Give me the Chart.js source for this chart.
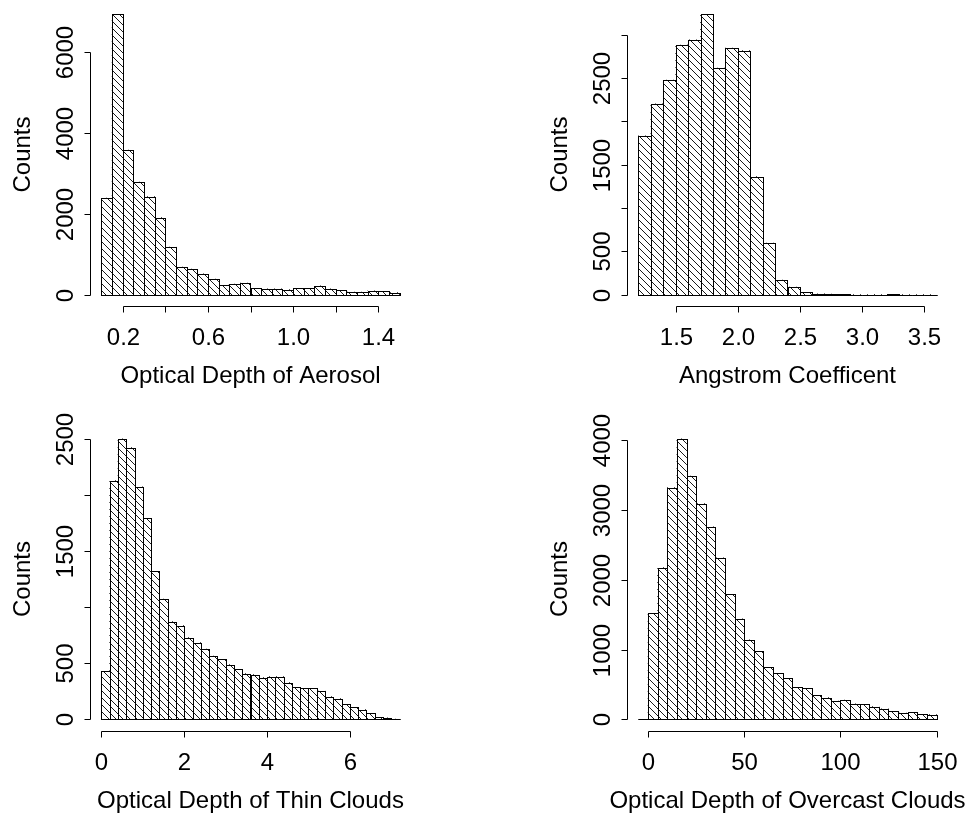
<!DOCTYPE html>
<html>
<head>
<meta charset="utf-8">
<script src="https://cdn.jsdelivr.net/npm/chart.js@4.4.1/dist/chart.umd.min.js"></script>
<style>
  html, body { margin: 0; padding: 0; background: #fff; }
  #wrap { position: relative; width: 978px; height: 815px; }
  .panel { position: absolute; }
  .panel canvas { display: block; }
</style>
</head>
<body>
<div id="wrap">
  <div class="panel" style="left:0;top:0"><canvas id="aerosolChart" width="489" height="407"></canvas></div>
  <div class="panel" style="left:489px;top:0"><canvas id="angstromChart" width="489" height="407"></canvas></div>
  <div class="panel" style="left:0;top:407px"><canvas id="thinChart" width="489" height="408"></canvas></div>
  <div class="panel" style="left:489px;top:407px"><canvas id="overcastChart" width="489" height="408"></canvas></div>
</div>
<script>
// Optical depth of aerosol
var aerosolEdges = [0.10, 0.15, 0.20, 0.25, 0.30, 0.35, 0.40, 0.45, 0.50, 0.55, 0.60, 0.65, 0.70, 0.75,
    0.80, 0.85, 0.90, 0.95, 1.00, 1.05, 1.10, 1.15, 1.20, 1.25, 1.30, 1.35, 1.40, 1.45, 1.50];
var aerosolCounts = [2390, 6940, 3580, 2790, 2430, 1910, 1180, 685, 635, 520, 388, 231, 264, 289,
    160, 150, 150, 130, 160, 160, 220, 150, 107, 66, 66, 95, 82, 55];
var aerosolXTicks = [0.2, 0.4, 0.6, 0.8, 1.0, 1.2, 1.4];
var aerosolXLabels = ['0.2', '', '0.6', '', '1.0', '', '1.4'];
var aerosolYTicks = [0, 2000, 4000, 6000];
var aerosolYLabels = ['0', '2000', '4000', '6000'];

// Angstrom coefficient
var angstromEdges = [1.2, 1.3, 1.4, 1.5, 1.6, 1.7, 1.8, 1.9, 2.0, 2.1, 2.2, 2.3, 2.4,
    2.5, 2.6, 2.7, 2.8, 2.9, 3.0, 3.1, 3.2, 3.3, 3.4, 3.5, 3.6];
var angstromCounts = [1835, 2204, 2477, 2881, 2942, 3238, 2615, 2846, 2819, 1365, 596, 170,
    89, 27, 10, 9, 4, 3, 2, 2, 4, 1, 1, 1];
var angstromXTicks = [1.5, 2.0, 2.5, 3.0, 3.5];
var angstromXLabels = ['1.5', '2.0', '2.5', '3.0', '3.5'];
var angstromYTicks = [0, 500, 1000, 1500, 2000, 2500, 3000];
var angstromYLabels = ['0', '500', '', '1500', '', '2500', ''];

// Optical depth of thin clouds
var thinEdges = [0.0, 0.2, 0.4, 0.6, 0.8, 1.0, 1.2, 1.4, 1.6, 1.8, 2.0, 2.2, 2.4, 2.6, 2.8, 3.0, 3.2, 3.4,
    3.6, 3.8, 4.0, 4.2, 4.4, 4.6, 4.8, 5.0, 5.2, 5.4, 5.6, 5.8, 6.0, 6.2, 6.4, 6.6, 6.8, 7.0, 7.2];
var thinCounts = [428, 2126, 2500, 2420, 2072, 1790, 1318, 1072, 870, 834, 727, 683, 626, 564, 534, 487,
    445, 407, 398, 371, 380, 380, 327, 285, 276, 276, 252, 202, 184, 134, 107, 86, 53, 18, 12, 2];
var thinXTicks = [0, 2, 4, 6];
var thinXLabels = ['0', '2', '4', '6'];
var thinYTicks = [0, 500, 1000, 1500, 2000, 2500];
var thinYLabels = ['0', '500', '', '1500', '', '2500'];

// Optical depth of overcast clouds
var overcastEdges = [-5, 0, 5, 10, 15, 20, 25, 30, 35, 40, 45, 50, 55, 60, 65, 70, 75, 80,
    85, 90, 95, 100, 105, 110, 115, 120, 125, 130, 135, 140, 145, 150];
var overcastCounts = [0, 1518, 2176, 3322, 4024, 3489, 3093, 2759, 2315, 1790, 1441, 1141, 974, 745,
    659, 587, 458, 444, 342, 310, 260, 277, 220, 213, 181, 150, 112, 88, 98, 70, 67];
var overcastXTicks = [0, 50, 100, 150];
var overcastXLabels = ['0', '50', '100', '150'];
var overcastYTicks = [0, 1000, 2000, 3000, 4000];
var overcastYLabels = ['0', '1000', '2000', '3000', '4000'];

var FONT = '24px "Liberation Sans", Arial, sans-serif';
var TITLE_FONT = '24px "Liberation Sans", Arial, sans-serif';

// diagonal "\\" hatching like R's density lines
function makeHatch(step) {
    var c = document.createElement('canvas');
    c.width = step;
    c.height = step;
    var g = c.getContext('2d');
    g.strokeStyle = '#000';
    g.lineWidth = 0.9;
    g.beginPath();
    g.moveTo(0, 0); g.lineTo(step, step);
    g.moveTo(-2, step - 2); g.lineTo(2, step + 2);
    g.moveTo(step - 2, -2); g.lineTo(step + 2, 2);
    g.stroke();
    return g.createPattern(c, 'repeat');
}
var hatch = makeHatch(7);

// bar outlines + R style axes
var rAxes = {
    id: 'rAxes',
    afterDatasetsDraw: function (chart) {
        var ctx = chart.ctx;
        ctx.save();
        ctx.strokeStyle = '#000';
        ctx.lineWidth = 1;
        chart.getDatasetMeta(0).data.forEach(function (bar) {
            var p = bar.getProps(['x', 'y', 'base', 'width'], true);
            var l = Math.round(p.x - p.width / 2) + 0.5;
            var r = Math.round(p.x + p.width / 2) + 0.5;
            var t = Math.round(Math.min(p.y, p.base)) + 0.5;
            var b = Math.round(Math.max(p.y, p.base)) + 0.5;
            ctx.strokeRect(l, t, r - l, b - t);
        });
        ctx.restore();
    },
    afterDraw: function (chart, args, o) {
        var ctx = chart.ctx, a = chart.chartArea;
        var xs = chart.scales.x, ys = chart.scales.y;
        ctx.save();
        ctx.strokeStyle = '#000';
        ctx.fillStyle = '#000';
        ctx.lineWidth = 1;

        // x axis
        var yA = Math.round(a.bottom) + 0.5;
        var xp = o.xTicks.map(function (t) { return Math.round(xs.getPixelForValue(t)) + 0.5; });
        ctx.beginPath();
        ctx.moveTo(xp[0], yA);
        ctx.lineTo(xp[xp.length - 1], yA);
        xp.forEach(function (px) { ctx.moveTo(px, yA); ctx.lineTo(px, yA + 6); });
        ctx.stroke();
        ctx.font = FONT;
        ctx.textAlign = 'center';
        ctx.textBaseline = 'middle';
        xp.forEach(function (px, i) { ctx.fillText(o.xLabels[i], px, yA + 32); });
        ctx.font = TITLE_FONT;
        ctx.fillText(o.xTitle, (a.left + a.right) / 2, yA + 70);

        // y axis
        var xA = Math.round(a.left) + 0.5;
        var yp = o.yTicks.map(function (t) { return Math.round(ys.getPixelForValue(t)) + 0.5; });
        ctx.beginPath();
        ctx.moveTo(xA, yp[0]);
        ctx.lineTo(xA, yp[yp.length - 1]);
        yp.forEach(function (py) { ctx.moveTo(xA, py); ctx.lineTo(xA - 6, py); });
        ctx.stroke();
        ctx.font = FONT;
        yp.forEach(function (py, i) {
            ctx.save();
            ctx.translate(xA - 24, py);
            ctx.rotate(-Math.PI / 2);
            ctx.fillText(o.yLabels[i], 0, 0);
            ctx.restore();
        });
        ctx.font = TITLE_FONT;
        ctx.save();
        ctx.translate(xA - 67, (a.top + a.bottom) / 2);
        ctx.rotate(-Math.PI / 2);
        ctx.fillText('Counts', 0, 0);
        ctx.restore();
        ctx.restore();
    }
};

function makeHist(id, edges, counts, axes, pad) {
    var pts = counts.map(function (c, i) {
        return { x: (edges[i] + edges[i + 1]) / 2, y: c };
    });
    var xMin = edges[0], xMax = edges[edges.length - 1];
    var yMax = Math.max.apply(null, counts);
    var xPad = 0.04 * (xMax - xMin), yPad = 0.04 * yMax;
    return new Chart(document.getElementById(id), {
        type: 'bar',
        data: {
            datasets: [{
                data: pts,
                backgroundColor: hatch,
                borderWidth: 0,
                barPercentage: 1,
                categoryPercentage: 1
            }]
        },
        options: {
            responsive: false,
            animation: false,
            layout: { padding: pad },
            plugins: {
                legend: { display: false },
                tooltip: { enabled: false },
                rAxes: axes
            },
            scales: {
                x: { type: 'linear', display: false, offset: false, min: xMin - xPad, max: xMax + xPad },
                y: { display: false, min: -yPad, max: yMax + yPad }
            }
        },
        plugins: [rAxes]
    });
}

var topPad = { top: 3, bottom: 101 };
var botPad = { top: 20.5, bottom: 84.5 };

makeHist('aerosolChart', aerosolEdges, aerosolCounts, {
    xTicks: aerosolXTicks, xLabels: aerosolXLabels, yTicks: aerosolYTicks, yLabels: aerosolYLabels,
    xTitle: 'Optical Depth of Aerosol'
}, { left: 89.5, right: 77.5, top: topPad.top, bottom: topPad.bottom });

makeHist('angstromChart', angstromEdges, angstromCounts, {
    xTicks: angstromXTicks, xLabels: angstromXLabels, yTicks: angstromYTicks, yLabels: angstromYLabels,
    xTitle: 'Angstrom Coefficent'
}, { left: 137.5, right: 29.5, top: topPad.top, bottom: topPad.bottom });

makeHist('thinChart', thinEdges, thinCounts, {
    xTicks: thinXTicks, xLabels: thinXLabels, yTicks: thinYTicks, yLabels: thinYLabels,
    xTitle: 'Optical Depth of Thin Clouds'
}, { left: 89.5, right: 77.5, top: botPad.top, bottom: botPad.bottom });

makeHist('overcastChart', overcastEdges, overcastCounts, {
    xTicks: overcastXTicks, xLabels: overcastXLabels, yTicks: overcastYTicks, yLabels: overcastYLabels,
    xTitle: 'Optical Depth of Overcast Clouds'
}, { left: 137.5, right: 29.5, top: botPad.top, bottom: botPad.bottom });
</script>
</body>
</html>
